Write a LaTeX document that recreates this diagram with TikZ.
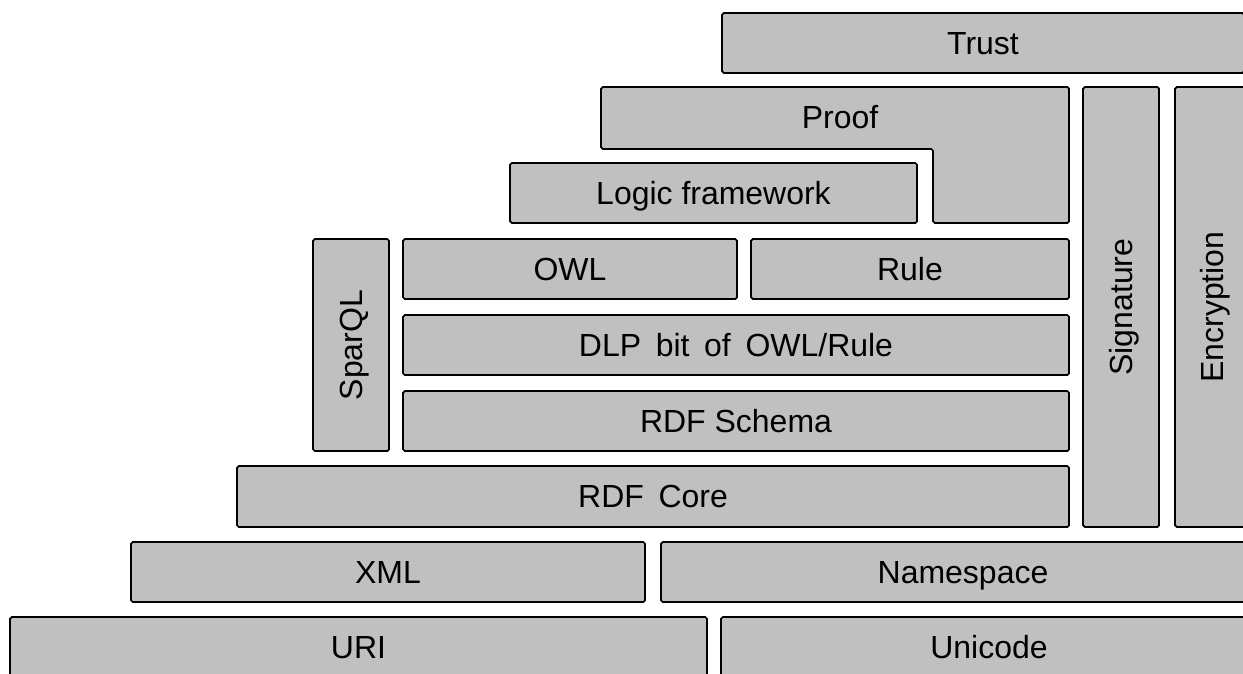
\documentclass[tikz,border=0pt]{standalone}
\usepackage{fontspec}
\setmainfont{Liberation Sans}
\usepackage{tikz}
\definecolor{layergray}{RGB}{192,192,192}
\tikzset{every picture/.append style={x=0.02cm,y=-0.02cm}}
\tikzset{layer/.style={draw=black, fill=layergray, line width=1pt, rounded corners=1pt, inner sep=0pt, text height=13pt, text depth=0pt, font=\fontsize{18.2}{22}\selectfont}}
\tikzset{dim/.style 2 args={minimum width=#1*0.02cm, minimum height=#2*0.02cm}}
\tikzset{txt/.style={inner sep=0pt, text height=13pt, text depth=0pt, font=\fontsize{18.2}{22}\selectfont}}
\newcommand{\wsp}{\hspace{0.18em}}

\begin{document}
\begin{tikzpicture}
%semantic web layer cake, boxes on the right run past the edge
\useasboundingbox (0,0) rectangle (1243,673);
\clip (0,0) rectangle (1243,673);
\node (trust) at (983,43)[layer, dim={522}{60}]{Trust};
\draw[layer] (601,87)--(1069,87)--(1069,223)--(933,223)--(933,149)--(601,149)--cycle;
\node (proof) at (840,117)[txt]{Proof};
\node (logic) at (713.5,193)[layer, dim={407}{60}]{Logic framework};
\node (sparql) at (351,345)[layer, rotate=90, dim={212}{76}]{SparQL};
\node (owl) at (570,269)[layer, dim={334}{60}]{OWL};
\node (rule) at (910,269)[layer, dim={318}{60}]{Rule};
\node (dlp) at (736,345)[layer, dim={666}{60}]{DLP \wsp bit \wsp of \wsp OWL/Rule};
\node (rdfs) at (736,421)[layer, dim={666}{60}]{RDF Schema};
\node (rdfcore) at (653,496.5)[layer, dim={832}{61}]{RDF \wsp Core};
\node (sig) at (1121,307)[layer, rotate=90, dim={440}{76}]{Signature};
\node (enc) at (1212,307)[layer, rotate=90, dim={440}{74}]{Encryption};
\node (xml) at (388,572)[layer, dim={514}{60}]{XML};
\node (ns) at (963,572)[layer, dim={604}{60}]{Namespace};
\node (uri) at (358.5,647)[layer, dim={697}{60}]{URI};
\node (unicode) at (989,647)[layer, dim={536}{60}]{Unicode};
\end{tikzpicture}
\end{document}
